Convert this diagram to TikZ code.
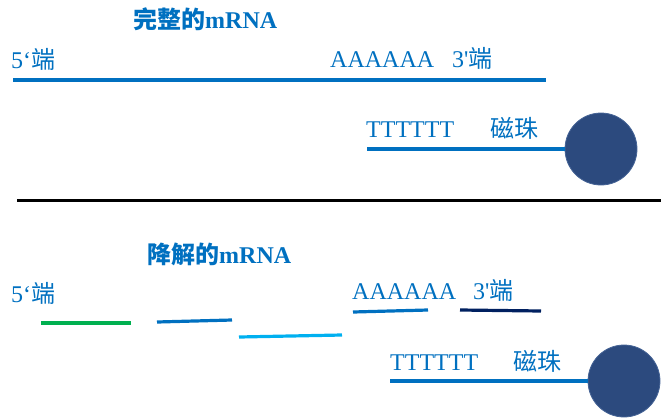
\documentclass[tikz,border=0pt]{standalone}
\usepackage{fontspec}
\setmainfont{Liberation Serif}
\newfontfamily\cjk{Noto Sans CJK SC}
\usepackage{tikz}
\usetikzlibrary{positioning}
\definecolor{rnablue}{RGB}{0,112,192}
\definecolor{rnagreen}{RGB}{0,176,80}
\definecolor{rnasky}{RGB}{0,176,240}
\definecolor{rnanavy}{RGB}{0,32,96}
\definecolor{beadfill}{RGB}{44,74,126}
\definecolor{beadedge}{RGB}{70,100,150}
\tikzset{
  txt/.style={anchor=base west, inner sep=0pt, text=rnablue,
              font=\fontsize{24}{27}\selectfont},
  heading/.style={txt, font=\fontsize{24}{27}\selectfont\bfseries},
  strand/.style={line width=3.2pt, rnablue},
  bead/.style={circle, fill=beadfill, draw=beadedge, line width=0.8pt,
               minimum size=72pt, inner sep=0pt},
}

\begin{document}
\begin{tikzpicture}[x=1pt, y=-1pt]
\useasboundingbox (0,0) rectangle (661,418);

% intact mRNA
\node[heading] (title1) at (133,28) {{\cjk\bfseries 完整的}mRNA};
\node[txt] (five1) at (11,68) {5‘{\cjk 端}};
\node[txt] (polyA1) at (330,67) {AAAAAA};
\node[txt] (three1) at (452,67) {3\textquotesingle{\cjk 端}};
\coordinate (m1s) at (13,80);
\coordinate (m1e) at (546,80);
\draw[strand] (m1s) -- (m1e);

\node[txt] (polyT1) at (366,137) {TTTTTT};
\node[txt] (label1) at (490,137) {\cjk 磁珠};
\node[bead] (bead1) at (601,149) {};
\coordinate (t1s) at (367,149);
\draw[strand] (t1s) -- (bead1.west);

% separator
\coordinate (sepL) at (17,200);
\coordinate (sepR) at (661,200);
\draw[line width=3pt, black] (sepL) -- (sepR);

% degraded mRNA
\node[heading] (title2) at (147,263) {{\cjk\bfseries 降解的}mRNA};
\node[txt] (five2) at (11,302) {5‘{\cjk 端}};
\node[txt] (polyA2) at (352,299) {AAAAAA};
\node[txt] (three2) at (473,299) {3\textquotesingle{\cjk 端}};

\coordinate (f1s) at (41,323);  \coordinate (f1e) at (131,323);
\coordinate (f2s) at (157,322); \coordinate (f2e) at (232,320);
\coordinate (f3s) at (239,337); \coordinate (f3e) at (342,335);
\coordinate (f4s) at (353,312); \coordinate (f4e) at (428,310);
\coordinate (f5s) at (460,310); \coordinate (f5e) at (541,311);
\draw[strand, rnagreen] (f1s) -- (f1e);
\draw[strand] (f2s) -- (f2e);
\draw[strand, rnasky] (f3s) -- (f3e);
\draw[strand] (f4s) -- (f4e);
\draw[strand, rnanavy] (f5s) -- (f5e);

\node[txt] (polyT2) at (390,370) {TTTTTT};
\node[txt] (label2) at (513,370) {\cjk 磁珠};
\node[bead] (bead2) at (624,381) {};
\coordinate (t2s) at (390,381);
\draw[strand] (t2s) -- (bead2.west);
\end{tikzpicture}
\end{document}
